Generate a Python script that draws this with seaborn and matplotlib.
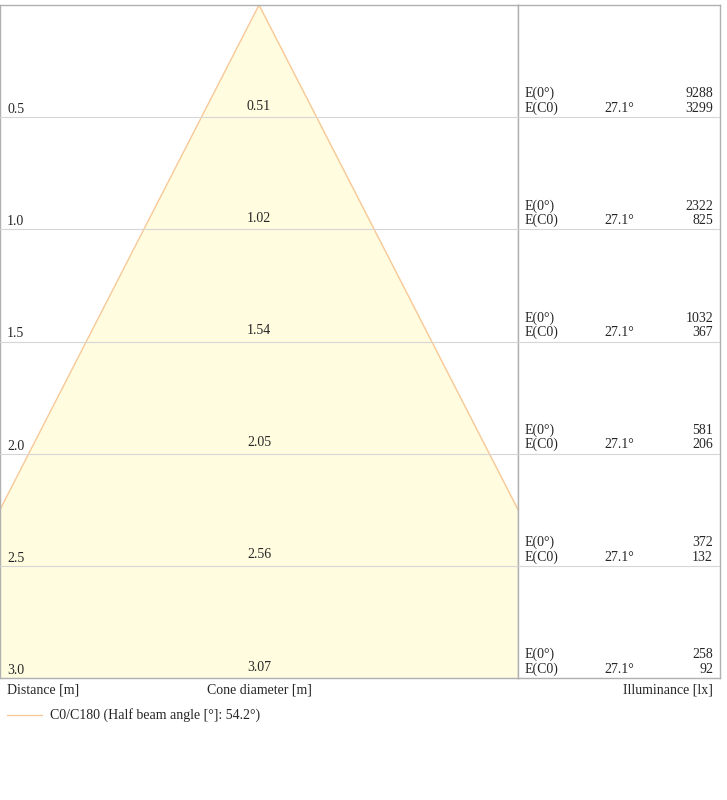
import numpy as np
import matplotlib.pyplot as plt
import seaborn as sns

sns.set_theme(style="white")
plt.rcParams['font.family'] = ['Liberation Serif', 'DejaVu Serif']

distances = [0.5, 1.0, 1.5, 2.0, 2.5, 3.0]
diameters = [0.51, 1.02, 1.54, 2.05, 2.56, 3.07]
e_center = [9288, 2322, 1032, 581, 372, 258]
e_c0 = [3299, 825, 367, 206, 132, 92]
half_angle = 27.1

W, H = 727, 800
fig = plt.figure(figsize=(W / 100, H / 100), dpi=100)

def fx(px):
    return px / W

def fy(py):
    return 1 - py / H

top, bot = 5, 678
ax = fig.add_axes([0, fy(bot), fx(518), (bot - top) / H])
ax2 = fig.add_axes([fx(518), fy(bot), fx(720 - 518), (bot - top) / H])

xmax = 259 / 225.0
ax.set_xlim(-xmax, xmax)
ax.set_ylim(3.0, 0)
ax2.set_xlim(0, 1)
ax2.set_ylim(3.0, 0)

# cone from the half beam angle
d = np.array([0.0, 3.0])
hw = d * np.tan(np.radians(half_angle))
ax.fill_betweenx(d, -hw, hw, color='#fffcdf', zorder=1)
ax.plot(-hw, d, color='#f7c99a', lw=1, zorder=2)
ax.plot(hw, d, color='#f7c99a', lw=1, zorder=2)

for a in (ax, ax2):
    a.set_xticks([])
    a.set_yticks([])
    for s in a.spines.values():
        s.set_color('#b0b0b0')
        s.set_linewidth(1)
    for dist in distances:
        a.axhline(dist, color='#d6d6d6', lw=0.8, zorder=3)

fs = 10
for dist, dia, e0, ec in zip(distances, diameters, e_center, e_c0):
    ax.text(-xmax + 7 / 225, dist - 0.005, f'{dist:.1f}', fontsize=fs, va='bottom', ha='left')
    ax.text(0, dist - 0.02, f'{dia:.2f}', fontsize=fs, va='bottom', ha='center')
    ax2.text(7 / 202, dist - 0.075, 'E(0°)', fontsize=fs, va='bottom', ha='left')
    ax2.text(7 / 202, dist - 0.01, 'E(C0)', fontsize=fs, va='bottom', ha='left')
    ax2.text(0.5, dist - 0.01, f'{half_angle}°', fontsize=fs, va='bottom', ha='center')
    ax2.text(195 / 202, dist - 0.075, f'{e0}', fontsize=fs, va='bottom', ha='right')
    ax2.text(195 / 202, dist - 0.01, f'{ec}', fontsize=fs, va='bottom', ha='right')

fig.text(fx(7), fy(690), 'Distance [m]', fontsize=fs, va='center', ha='left')
fig.text(fx(259), fy(690), 'Cone diameter [m]', fontsize=fs, va='center', ha='center')
fig.text(fx(713), fy(690), 'Illuminance [lx]', fontsize=fs, va='center', ha='right')
fig.add_artist(plt.Line2D([fx(7), fx(42)], [fy(715), fy(715)], color='#f7c99a', lw=1))
fig.text(fx(50), fy(715), f'C0/C180 (Half beam angle [°]: {2 * half_angle:.1f}°)',
         fontsize=fs, va='center', ha='left')

fig.savefig('out.png', dpi=100)
